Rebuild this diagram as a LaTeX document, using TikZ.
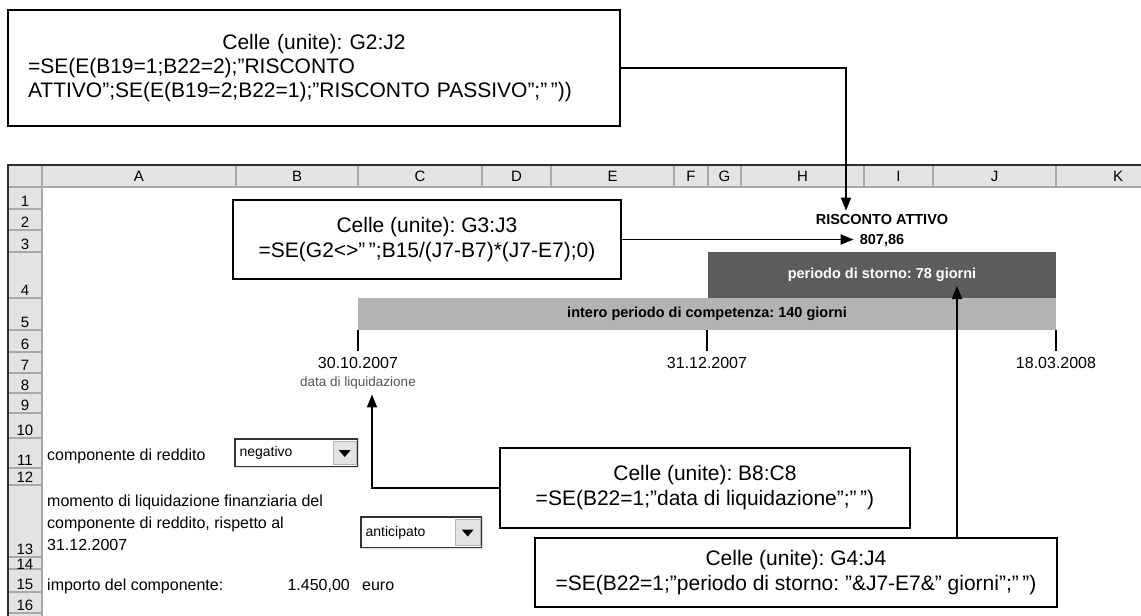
\documentclass[tikz,border=0pt]{standalone}
\usepackage{fontspec}
\setmainfont{Liberation Sans}
\usetikzlibrary{arrows.meta}
\definecolor{hdrgray}{HTML}{E3E3E3}
\definecolor{linegray}{HTML}{A8A8A8}
\definecolor{framegray}{HTML}{2E2E2E}
\definecolor{stornogray}{HTML}{5C5C5C}
\definecolor{compgray}{HTML}{B3B3B3}
\definecolor{liqgray}{HTML}{555555}
\tikzset{
  callout/.style={draw=black,line width=1.6pt,fill=white,inner sep=4pt,font=\fontsize{21}{25}\selectfont},
  conn/.style={line width=1.8pt,-{Triangle[length=13pt,width=10pt]}},
  sheet/.style={inner sep=0,font=\fontsize{16}{22}\selectfont},
  hdr/.style={inner sep=0,font=\fontsize{15}{18}\selectfont},
  bar/.style={inner sep=0,font=\fontsize{14.5}{17}\selectfont\bfseries},
  tick/.style={line width=2.2pt},
  dropfield/.style={draw=gray!40!black,line width=1.2pt,fill=white,inner sep=0},
  dropbtn/.style={draw=gray!60,line width=0.8pt,fill=hdrgray,inner sep=0},
  droptext/.style={inner sep=0,font=\fontsize{14}{16}\selectfont},
}
\begin{document}
\frenchspacing
\begin{tikzpicture}[x=1pt,y=-1pt]
\useasboundingbox (0,0) rectangle (1141,616);
% spreadsheet headers
\fill[hdrgray] (8,165) rectangle (1141,187);
\fill[hdrgray] (8,187) rectangle (42,616);
\foreach \lab/\xa/\xb in {A/42/236,B/236/358,C/358/482,D/482/551,E/551/674,F/674/708,G/708/741,H/741/864,I/864/933,J/933/1056}{
  \draw[linegray,line width=1.2pt] (\xb,165) -- (\xb,187);
  \node[hdr] (col\lab) at ({(\xa+\xb)/2},176) {\lab};
}
\node[hdr] (colK) at (1118,176) {K};
\foreach \n/\ya/\yb/\dy in {1/187/209/3,2/209/230/3,3/230/252/3,4/252/298/3,5/298/330/3,6/330/352/3,7/352/373/3,8/373/393/3,9/393/413/3,10/413/438/3,11/438/468/3,12/468/485/3,13/485/557/3,14/557/569/0,15/569/592/3,16/592/613/3}{
  \draw[linegray,line width=1.2pt] (8,\yb) -- (42,\yb);
  \begin{scope}
    \clip (8,\ya) rectangle (42,\yb);
    \node[hdr,anchor=base] (row\n) at (25,\yb-\dy) {\n};
  \end{scope}
}
\draw[linegray,line width=1.2pt] (8,187) -- (1141,187);
\draw[linegray,line width=1.2pt] (42,165) -- (42,616);
\draw[framegray,line width=2.6pt] (8,616) -- (8,165) -- (1141,165);

% bars and time line
\node[bar,fill=compgray,minimum width=698pt,minimum height=32pt] (comp) at (707,314) {intero periodo di competenza: 140 giorni};
\node[bar,fill=stornogray,text=white,minimum width=348pt,minimum height=46pt] (storno) at (882,275) {periodo di storno: 78 giorni};
\draw[tick] (358,330) -- (358,351);
\draw[tick] (707,330) -- (707,351);
\draw[tick] (1056,330) -- (1056,351);
\node[sheet] (dstart) at (358,363) {30.10.2007};
\node[sheet] (dmid) at (707,363) {31.12.2007};
\node[sheet] (dend) at (1056,363) {18.03.2008};
\node[inner sep=2pt,text=liqgray,font=\fontsize{13.5}{16}\selectfont] (liq) at (358,383) {data di liquidazione};
\node[bar] (risc) at (882,220) {RISCONTO ATTIVO};
\node[bar] (imp) at (882,241) {807,86};

% input cells
\node[sheet,anchor=base west] (lblreddito) at (47,460) {componente di reddito};
\node[dropfield,minimum width=123pt,minimum height=28pt] (ddreddito) at (296.5,453) {};
\draw[gray!25,line width=1.2pt] (ddreddito.south west) -- (ddreddito.south east) -- (ddreddito.north east);
\node[dropbtn,minimum width=23pt,minimum height=23pt,anchor=east] (btnreddito) at ([xshift=-2pt]ddreddito.east) {};
\fill ([xshift=-6pt,yshift=3pt]btnreddito.center) -- ([xshift=6pt,yshift=3pt]btnreddito.center) -- ([yshift=-4pt]btnreddito.center) -- cycle;
\node[droptext,anchor=west] (txtreddito) at ([xshift=5pt]ddreddito.west) {negativo};

\node[sheet,anchor=south west,align=left] (lblmomento) at (47,551) {momento di liquidazione finanziaria del\\componente di reddito, rispetto al\\31.12.2007};
\node[dropfield,minimum width=121pt,minimum height=31pt] (ddmomento) at (421.5,532.5) {};
\draw[gray!25,line width=1.2pt] (ddmomento.south west) -- (ddmomento.south east) -- (ddmomento.north east);
\node[dropbtn,minimum width=25pt,minimum height=26pt,anchor=east] (btnmomento) at ([xshift=-2pt]ddmomento.east) {};
\fill ([xshift=-6pt,yshift=3pt]btnmomento.center) -- ([xshift=6pt,yshift=3pt]btnmomento.center) -- ([yshift=-4pt]btnmomento.center) -- cycle;
\node[droptext,anchor=west] (txtmomento) at ([xshift=5pt]ddmomento.west) {anticipato};

\node[sheet,anchor=base west] (lblimporto) at (47,590) {importo del componente:};
\node[sheet,anchor=base east] (valimporto) at (350,590) {1.450,00};
\node[sheet,anchor=base west] (unitimporto) at (362,590) {euro};

% formula callouts
\node[callout,inner xsep=20pt,minimum width=612pt,minimum height=116pt,text width=572pt,align=left,font=\fontsize{21}{24}\selectfont] (cellG2) at (314,68)
  {\makebox[\linewidth][c]{Celle (unite): G2:J2}\\=SE(E(B19=1;B22=2);"RISCONTO\\ATTIVO";SE(E(B19=2;B22=1);"RISCONTO PASSIVO";"\,"))};
\node[callout,minimum width=388pt,minimum height=79pt,align=center] (cellG3) at (427,239.5)
  {Celle (unite): G3:J3\\=SE(G2<>"\,";B15/(J7-B7)*(J7-E7);0)};
\node[callout,minimum width=410pt,minimum height=80pt,align=center] (cellB8) at (705,488)
  {Celle (unite): B8:C8\\=SE(B22=1;"data di liquidazione";"\,")};
\node[callout,minimum width=522pt,minimum height=69pt,align=center] (cellG4) at (796,572.5)
  {Celle (unite): G4:J4\\=SE(B22=1;"periodo di storno: "\&J7-E7\&" giorni";"\,")};

% connectors
\draw[conn] (cellG2.east) -| ([xshift=-36pt,yshift=4pt]risc.north);
\draw[conn] (cellG3.east) -- ([xshift=-6pt]imp.west |- cellG3.east);
\draw[conn] (cellB8.west) -| ([xshift=14pt,yshift=-3pt]liq.south);
\draw[conn] ([xshift=161pt]cellG4.north) -- ([xshift=75pt,yshift=-11pt]storno.center);
\end{tikzpicture}
\end{document}
